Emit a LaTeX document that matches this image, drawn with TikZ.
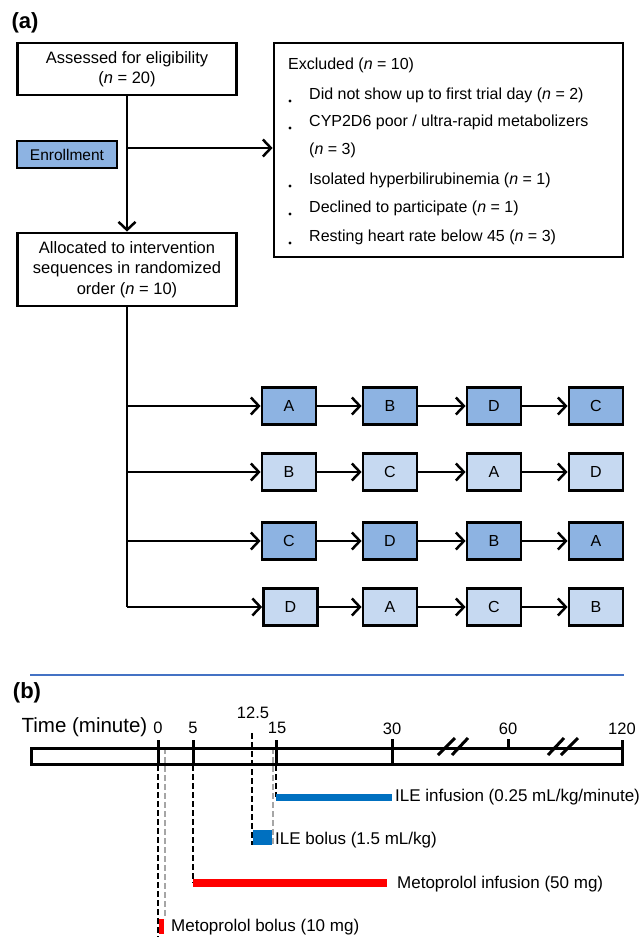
\documentclass[tikz,border=0pt]{standalone}
\usepackage{fontspec}
\setmainfont{Liberation Sans}
\usetikzlibrary{arrows.meta}
\definecolor{dkblue}{HTML}{8DB3E2}
\definecolor{ltblue}{HTML}{C6D9F1}
\definecolor{sepblue}{HTML}{4472C4}
\definecolor{ileblue}{HTML}{0070C0}
\definecolor{metred}{HTML}{FF0000}
\definecolor{dgrey}{HTML}{A6A6A6}
\tikzset{
  fbox/.style={draw, line width=2.8pt, inner sep=0pt, align=center, font=\fontsize{16.5}{20.5}\selectfont},
  seqbox/.style={draw, line width=2.8pt, minimum width=54pt, minimum height=37pt, inner sep=0pt, font=\fontsize{16}{18}\selectfont},
  dkbox/.style={seqbox, fill=dkblue},
  ltbox/.style={seqbox, fill=ltblue},
  conn/.style={line width=2.5pt},
  arr/.style={conn, -{Straight Barb[length=8pt,width=17pt]}},
  txt/.style={inner sep=0pt, anchor=west, font=\fontsize{16}{20}\selectfont},
  lbl/.style={inner sep=0pt, anchor=west, font=\fontsize{17}{20}\selectfont},
  tick/.style={inner sep=0pt, font=\fontsize{16.5}{18}\selectfont},
  tmark/.style={line width=3pt},
  bdash/.style={line width=2pt, dash pattern=on 6pt off 3pt},
  gdash/.style={line width=2pt, dgrey, dash pattern=on 6pt off 3pt},
  plabel/.style={inner sep=0pt, font=\fontsize{22}{24}\selectfont\bfseries}
}
\begin{document}
\begin{tikzpicture}[x=1pt,y=-1pt]
\useasboundingbox (0,0) rectangle (641,937);
% ---------- (a) ----------
\node[plabel] (pa) at (25,23) {(a)};
\node[fbox, minimum width=219pt, minimum height=52pt] (assess) at (127,69) {Assessed for eligibility\\(\textit{n} = 20)};
\node[fbox, fill=dkblue, minimum width=100pt, minimum height=27pt, font=\fontsize{15.5}{18}\selectfont] (enr) at (67,154.5) {Enrollment};
\node[draw, line width=2.8pt, minimum width=349pt, minimum height=214pt, inner sep=0pt] (excl) at (448.5,150) {};
\node[fbox, minimum width=219pt, minimum height=73pt] (alloc) at (127,269.5) {Allocated to intervention\\sequences in randomized\\order (\textit{n} = 10)};

\node[txt] (e0) at (288,65) {Excluded (\textit{n} = 10)};
\node[txt] (e1) at (309,95) {Did not show up to first trial day (\textit{n} = 2)};
\node[txt] (e2) at (309,122) {CYP2D6 poor / ultra-rapid metabolizers};
\node[txt] (e3) at (309,150) {(\textit{n} = 3)};
\node[txt] (e4) at (309,180) {Isolated hyperbilirubinemia (\textit{n} = 1)};
\node[txt] (e5) at (309,208) {Declined to participate (\textit{n} = 1)};
\node[txt] (e6) at (309,237) {Resting heart rate below 45 (\textit{n} = 3)};
\foreach \yy in {95,122,180,208,237} \fill (290,\yy+6) circle (1.6pt);

\draw[arr] (assess) -- (alloc);
\coordinate (j1) at (127,148);
\draw[arr] (j1) -- (excl.west |- j1);

% sequences
\node[dkbox] (r1c1) at (289,406) {A};
\node[dkbox] (r1c2) at (390,406) {B};
\node[dkbox] (r1c3) at (494,406) {D};
\node[dkbox] (r1c4) at (596,406) {C};
\node[ltbox] (r2c1) at (289,472) {B};
\node[ltbox] (r2c2) at (390,472) {C};
\node[ltbox] (r2c3) at (494,472) {A};
\node[ltbox] (r2c4) at (596,472) {D};
\node[dkbox] (r3c1) at (289,541) {C};
\node[dkbox] (r3c2) at (390,541) {D};
\node[dkbox] (r3c3) at (494,541) {B};
\node[dkbox] (r3c4) at (596,541) {A};
\node[ltbox] (r4c1) at (290.5,607) {D};
\node[ltbox] (r4c2) at (390,607) {A};
\node[ltbox] (r4c3) at (494,607) {C};
\node[ltbox] (r4c4) at (596,607) {B};

\coordinate (b1) at (127,406);
\coordinate (b2) at (127,472);
\coordinate (b3) at (127,541);
\coordinate (b4) at (127,607);
\draw[conn] (alloc.south) -- (b4);
\foreach \r in {1,2,3,4}{
  \draw[arr] (b\r) -- (r\r c1);
  \draw[arr] (r\r c1) -- (r\r c2);
  \draw[arr] (r\r c2) -- (r\r c3);
  \draw[arr] (r\r c3) -- (r\r c4);
}

% separator
\draw[sepblue, line width=2.5pt] (30,675) -- (624,675);

% ---------- (b) ----------
\node[plabel] (pb) at (27,693) {(b)};
\node[inner sep=0pt, font=\fontsize{20.5}{22}\selectfont] (tl) at (84.5,727) {Time (minute)};

% dashed guide lines
\draw[gdash] (165,748) -- (165,919);
\draw[gdash] (273,748) -- (273,845);
\draw[bdash] (158,765) -- (158,937);
\draw[bdash] (193,765) -- (193,883);
\draw[bdash] (252,733) -- (252,845);
\draw[bdash] (276,765) -- (276,797);

% axis rectangle
\draw[line width=3pt] (31,748.5) rectangle (622,764);
\draw[tmark] (158,740) -- (158,765);
\draw[tmark] (193,740) -- (193,765);
\draw[tmark] (276,740) -- (276,765);
\draw[tmark] (392,739) -- (392,765);
\draw[tmark] (508,739) -- (508,749);
\draw[tmark] (622,740) -- (622,765);
% breaks
\draw[tmark] (438,755) -- (455,738);
\draw[tmark] (452,755) -- (468,738);
\draw[tmark] (548,755) -- (564,738);
\draw[tmark] (561,755) -- (578,738);

\node[tick] (t0) at (158,728) {0};
\node[tick] (t5) at (193,728) {5};
\node[tick] (t12) at (253,713) {12.5};
\node[tick] (t15) at (277,728) {15};
\node[tick] (t30) at (392,729) {30};
\node[tick] (t60) at (508,729) {60};
\node[tick] (t120) at (622,729) {120};

% bars
\fill[ileblue] (276,794) rectangle (392,801);
\fill[ileblue] (253,830) rectangle (272,845);
\fill[metred] (193,879) rectangle (387,887);
\fill[metred] (159,919) rectangle (164,934);

\node[lbl] (l1) at (395,797) {ILE infusion (0.25 mL/kg/minute)};
\node[lbl] (l2) at (275,840) {ILE bolus (1.5 mL/kg)};
\node[lbl] (l3) at (397,884) {Metoprolol infusion (50 mg)};
\node[lbl] (l4) at (171,927) {Metoprolol bolus (10 mg)};
\end{tikzpicture}
\end{document}
